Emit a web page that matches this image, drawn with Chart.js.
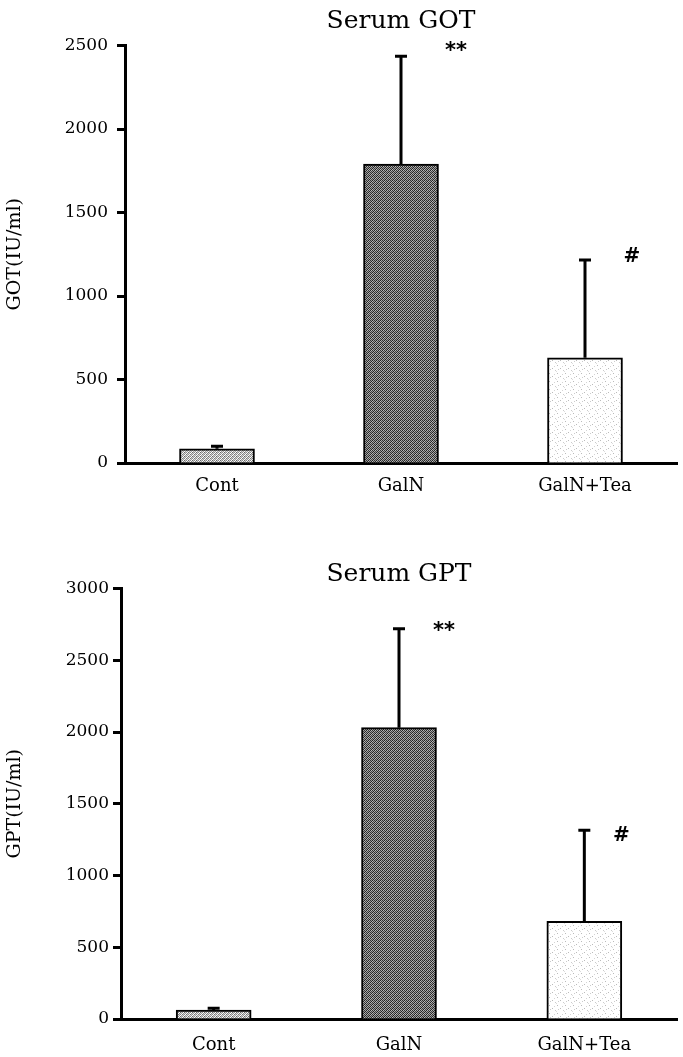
<!DOCTYPE html>
<html>
<head>
<meta charset="utf-8">
<title>Serum GOT / GPT</title>
<script src="https://cdn.jsdelivr.net/npm/chart.js@4.4.1/dist/chart.umd.min.js"></script>
<style>
  body { margin: 0; background: #fff; }
  canvas { display: block; }
</style>
</head>
<body>
<canvas id="gotChart" width="683" height="520"></canvas>
<canvas id="gptChart" width="683" height="537"></canvas>
<script>
// data
const categories = ['Cont', 'GalN', 'GalN+Tea'];
const gotMeans = [85, 1790, 630];
const gotSD = [15, 645, 585];
const gptMeans = [63, 2030, 680];
const gptSD = [12, 690, 635];
const marks = ['', '**', '#'];
const gotTickMax = 2500;
const gptTickMax = 3000;
const tickStep = 500;

// little fill textures like the printed hatching
function makePattern(cells, size) {
    const c = document.createElement('canvas');
    c.width = size; c.height = size;
    const g = c.getContext('2d');
    g.fillStyle = '#fff';
    g.fillRect(0, 0, size, size);
    cells.forEach(([px, py, col]) => {
        g.fillStyle = col;
        g.fillRect(px, py, 1, 1);
    });
    return g.createPattern(c, 'repeat');
}
const contFill = makePattern([[0,0,'#666'],[2,0,'#888'],[1,1,'#999'],[3,1,'#888'],[0,2,'#888'],[2,2,'#777'],[1,3,'#999'],[3,3,'#999'],[1,0,'#ccc'],[3,2,'#ccc'],[0,1,'#ddd'],[2,3,'#ddd']], 4);
const galnFill = makePattern([[0,0,'#222'],[2,0,'#333'],[1,1,'#444'],[3,1,'#222'],[0,2,'#333'],[2,2,'#222'],[1,3,'#222'],[3,3,'#444'],[1,0,'#aaa'],[3,0,'#999'],[0,1,'#bbb'],[2,1,'#999'],[1,2,'#aaa'],[3,2,'#bbb'],[0,3,'#999'],[2,3,'#aaa']], 4);
const teaFill = makePattern([[0,0,'#bbb'],[3,2,'#ccc'],[5,5,'#bbb'],[2,6,'#d5d5d5'],[6,1,'#ccc'],[4,3,'#ddd']], 8);

// upward error bars + significance marks, placed with the y scale
const errorBars = {
    id: 'errorBars',
    afterDatasetsDraw(chart, args, opts) {
        const ctx = chart.ctx;
        const y = chart.scales.y;
        const ds = chart.data.datasets[0];
        const meta = chart.getDatasetMeta(0);
        ctx.save();
        ctx.strokeStyle = '#000';
        ctx.lineWidth = 3;
        meta.data.forEach((bar, i) => {
            const top = y.getPixelForValue(ds.data[i] + opts.sd[i]);
            ctx.beginPath();
            ctx.moveTo(bar.x, bar.y);
            ctx.lineTo(bar.x, top);
            ctx.moveTo(bar.x - 6, top);
            ctx.lineTo(bar.x + 6, top);
            ctx.stroke();
            if (opts.marks[i]) {
                ctx.fillStyle = '#000';
                ctx.font = opts.marks[i] === '#' ? 'bold 20px "DejaVu Serif"' : 'bold 21px "DejaVu Sans"';
                ctx.textAlign = 'center';
                ctx.textBaseline = 'middle';
                ctx.fillText(opts.marks[i], bar.x + opts.markDx[i], top + opts.markDy[i]);
            }
        });
        ctx.restore();
    }
};

function makeChart(id, title, yTitle, means, sd, yMax, g) {
    return new Chart(document.getElementById(id), {
        type: 'bar',
        data: {
            labels: categories,
            datasets: [{
                data: means,
                backgroundColor: [contFill, galnFill, teaFill],
                borderColor: '#000',
                borderWidth: 2,
                borderSkipped: 'bottom',
                barThickness: 75
            }]
        },
        options: {
            responsive: false,
            animation: false,
            layout: { padding: { left: 0, right: 6, top: 0, bottom: 0 } },
            plugins: {
                legend: { display: false },
                tooltip: { enabled: false },
                title: {
                    display: true,
                    text: title,
                    fullSize: false,
                    color: '#000',
                    font: { family: '"DejaVu Serif"', size: 25, weight: 'normal', lineHeight: 1.1 },
                    padding: g.titlePad
                },
                errorBars: { sd: sd, marks: marks, markDx: g.markDx, markDy: g.markDy }
            },
            scales: {
                x: {
                    grid: { display: true, drawOnChartArea: false, drawTicks: false },
                    border: { display: true, color: '#000', width: 3 },
                    ticks: {
                        color: '#000',
                        padding: g.xPad,
                        font: { family: '"DejaVu Serif"', size: 18 }
                    },
                    afterFit(scale) { scale.height = g.xHeight; }
                },
                y: {
                    min: 0,
                    max: yMax,
                    grid: {
                        drawOnChartArea: false,
                        drawTicks: true,
                        tickLength: 8,
                        tickWidth: 3,
                        tickColor: '#000'
                    },
                    border: { display: true, color: '#000', width: 3 },
                    ticks: {
                        stepSize: tickStep,
                        color: '#000',
                        padding: g.yPad,
                        font: { family: '"DejaVu Serif"', size: 17 },
                        callback: v => String(v)
                    },
                    title: {
                        display: true,
                        text: yTitle,
                        color: '#000',
                        font: { family: '"DejaVu Serif"', size: 19 },
                        padding: { top: 4, bottom: 0 }
                    },
                    afterFit(scale) { scale.width = g.axisLeft; }
                }
            }
        },
        plugins: [errorBars]
    });
}

makeChart('gotChart', 'Serum GOT', 'GOT(IU/ml)', gotMeans, gotSD, gotTickMax, {
    axisLeft: 125,
    titlePad: { top: 8, bottom: 10 },
    xHeight: 57,
    xPad: 13,
    yPad: 9,
    markDx: [0, 55, 47],
    markDy: [0, -5, -3]
});

makeChart('gptChart', 'Serum GPT', 'GPT(IU/ml)', gptMeans, gptSD, gptTickMax, {
    axisLeft: 121,
    titlePad: { top: 41, bottom: 0 },
    xHeight: 38,
    xPad: 16,
    yPad: 4,
    markDx: [0, 45, 37],
    markDy: [0, 3, 5]
});
</script>
</body>
</html>
